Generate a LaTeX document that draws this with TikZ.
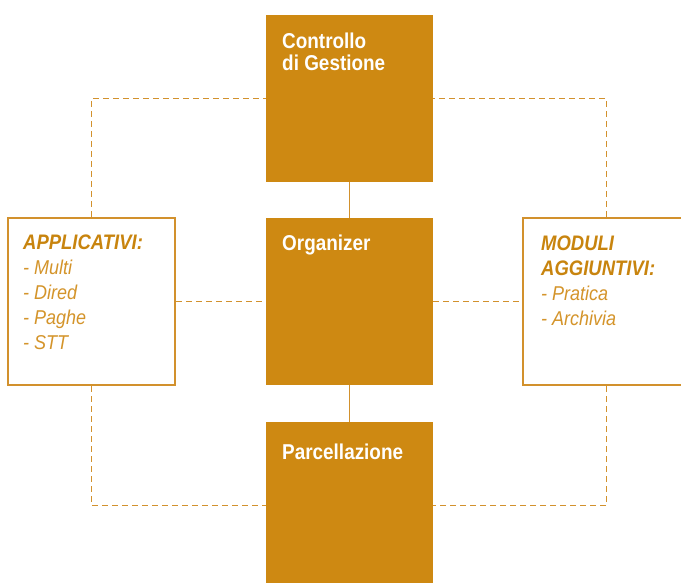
\documentclass[tikz,border=0pt]{standalone}
\usepackage{fontspec}
\newfontfamily\condB[FakeStretch=0.88]{Liberation Sans}
\newfontfamily\condI[FakeStretch=0.9]{Liberation Sans}
\definecolor{ocra}{RGB}{206,137,18}
\definecolor{ocraline}{RGB}{210,145,45}
\definecolor{ocrahead}{RGB}{200,132,14}
\definecolor{ocraitem}{RGB}{212,148,42}
\tikzset{
  mainbox/.style={fill=ocra, draw=none, minimum width=167pt, minimum height=167pt, inner sep=0pt},
  sidebox/.style={fill=white, draw=ocraline, line width=2pt, minimum width=167pt, minimum height=167pt, inner sep=0pt},
  dashlink/.style={draw=ocraline, line width=1.8pt, dash pattern=on 6pt off 4pt},
  solidlink/.style={draw=ocraline, line width=1.6pt},
  wtext/.style={anchor=base west, inner sep=0pt, text=white, font=\condB\bfseries\fontsize{21.5}{22}\selectfont},
  stext/.style={anchor=base west, inner sep=0pt},
}
\newcommand{\hdline}[1]{\hbox{\condB\bfseries\itshape\fontsize{21}{25}\selectfont\color{ocrahead}#1}}
\newcommand{\itline}[1]{\hbox{\condI\itshape\fontsize{20}{25}\selectfont\color{ocraitem}#1}}
\begin{document}
\begin{tikzpicture}[x=1pt,y=-1pt]
\useasboundingbox (0,0) rectangle (681,583);
\node[mainbox] (top) at (349.5,98.5) {};
\node[mainbox] (mid) at (349.5,301.5) {};
\node[mainbox] (bot) at (349.5,505.5) {};
\node[sidebox] (left) at (91.5,301.5) {};
\node[sidebox] (right) at (606.5,301.5) {};
\draw[dashlink] (left.north) |- (top.west);
\draw[dashlink] (right.north) |- (top.east);
\draw[dashlink] (left.south) |- (bot.west);
\draw[dashlink] (right.south) |- (bot.east);
\draw[dashlink] (left.east) -- (mid.west);
\draw[dashlink] (mid.east) -- (right.west);
\draw[solidlink] (top.south) -- (mid.north);
\draw[solidlink] (mid.south) -- (bot.north);
% texts
\node[wtext] (t1) at (282,49) {\vtop{\baselineskip=22pt\hbox{Controllo}\hbox{di Gestione}}};
\node[wtext] (t2) at (282,251) {Organizer};
\node[wtext] (t3) at (282,459) {Parcellazione};
\node[stext] (t4) at (23,250) {\vtop{\baselineskip=25pt\hdline{APPLICATIVI:}\itline{- Multi}\itline{- Dired}\itline{- Paghe}\itline{- STT}}};
\node[stext] (t5) at (541,251) {\vtop{\baselineskip=25pt\hdline{MODULI}\hdline{AGGIUNTIVI:}\itline{- Pratica}\itline{- Archivia}}};
\end{tikzpicture}
\end{document}
